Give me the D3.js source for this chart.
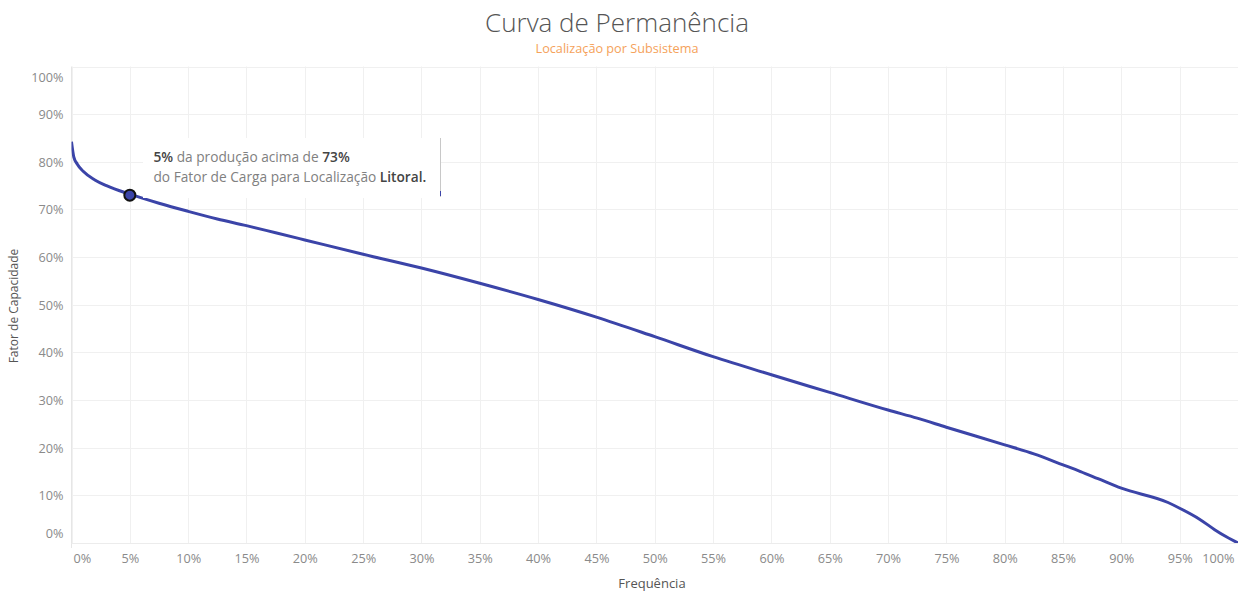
<!DOCTYPE html>
<html>
<head>
<meta charset="utf-8">
<script src="https://cdn.jsdelivr.net/npm/d3@7"></script>
<style>
  html, body { margin: 0; padding: 0; background: #fff; }
  svg { display: block; font-family: "Open Sans", "Lato", sans-serif; }
</style>
</head>
<body>
<svg id="chart" width="1238" height="591"></svg>
<script>
// ---- data ----
const frequency = [0, 0.002, 0.005, 0.01, 0.02, 0.03, 0.05, 0.075, 0.10, 0.125, 0.15, 0.175, 0.20, 0.25, 0.30, 0.35, 0.40, 0.45, 0.50, 0.55, 0.60, 0.65, 0.70, 0.725, 0.75, 0.80, 0.825, 0.85, 0.865, 0.88, 0.90, 0.94, 0.95, 0.967, 0.98, 0.99, 1.0];
const capacityFactor = [0.842, 0.81, 0.795, 0.78, 0.762, 0.750, 0.732, 0.713, 0.696, 0.680, 0.666, 0.651, 0.636, 0.606, 0.577, 0.545, 0.511, 0.474, 0.433, 0.391, 0.353, 0.316, 0.279, 0.262, 0.243, 0.206, 0.187, 0.164, 0.150, 0.135, 0.115, 0.085, 0.073, 0.050, 0.028, 0.013, 0.0];
const xTicks = d3.range(0, 21).map(i => i * 0.05);
const yTicks = d3.range(0, 11).map(i => i * 0.1);
const highlight = { freq: 0.05, value: 0.73 };
const titleText = "Curva de Permanência";
const subtitleText = "Localização por Subsistema";
const xTitle = "Frequência";
const yTitle = "Fator de Capacidade";
const tipLine1 = [["5%", true], [" da produção acima de ", false], ["73%", true]];
const tipLine2 = [["do Fator de Carga para Localização ", false], ["Litoral.", true]];

// ---- layout ----
const svg = d3.select("#chart");
const pLeft = 71.5, pRight = 1238, pTop = 66.5, pBottom = 543;
const x = d3.scaleLinear().domain([0, 1]).range([pLeft, pRight]);
const y = d3.scaleLinear().domain([0, 1]).range([pBottom, pTop]);
const fmt = d3.format(".0%");

// title
svg.append("text").attr("x", 617).attr("y", 32).attr("text-anchor", "middle")
  .attr("font-size", 26).attr("font-weight", 300).attr("fill", "#555").text(titleText);
svg.append("text").attr("x", 617).attr("y", 52.5).attr("text-anchor", "middle")
  .attr("font-size", 12.7).attr("fill", "#f5a25a").text(subtitleText);

// gridlines
const grid = svg.append("g");
grid.selectAll("line.v").data(xTicks).join("line")
  .attr("x1", d => Math.round(x(d)) + 0.5).attr("x2", d => Math.round(x(d)) + 0.5)
  .attr("y1", pTop).attr("y2", pBottom).attr("stroke", "#f0f0f0");
grid.selectAll("line.h").data(yTicks).join("line")
  .attr("x1", pLeft).attr("x2", pRight)
  .attr("y1", d => Math.round(y(d)) + 0.5).attr("y2", d => Math.round(y(d)) + 0.5)
  .attr("stroke", "#f0f0f0");
// axis lines
svg.append("line").attr("x1", pLeft).attr("x2", pLeft).attr("y1", pTop).attr("y2", pBottom + 5).attr("stroke", "#e6e6e6");
svg.append("line").attr("x1", pLeft).attr("x2", pRight).attr("y1", pBottom + 0.5).attr("y2", pBottom + 0.5).attr("stroke", "#ececec");

// x axis labels
const xAxis = d3.axisBottom(x).tickValues(xTicks).tickFormat(fmt).tickSize(0).tickPadding(0);
const gx = svg.append("g").attr("transform", `translate(0,${pBottom + 20})`).call(xAxis);
gx.select(".domain").remove();
gx.selectAll("text").attr("font-size", 12.7).attr("fill", "#8a8a8a").attr("font-family", "Open Sans, Lato, sans-serif").attr("dy", 0);
gx.selectAll(".tick").filter(d => d === 0).select("text").attr("text-anchor", "start").attr("dx", 1.5);
gx.selectAll(".tick").filter(d => d === 1).select("text").attr("text-anchor", "end").attr("dx", -4);

// y axis labels
const yAxis = d3.axisLeft(y).tickValues(yTicks).tickFormat(fmt).tickSize(0).tickPadding(8);
const gy = svg.append("g").attr("transform", `translate(${pLeft},0)`).call(yAxis);
gy.select(".domain").remove();
gy.selectAll("text").attr("font-size", 12.7).attr("fill", "#8a8a8a").attr("font-family", "Open Sans, Lato, sans-serif").attr("dy", "0.35em");
gy.selectAll(".tick").filter(d => d === 0).select("text").attr("dy", "-0.45em");
gy.selectAll(".tick").filter(d => Math.abs(d - 1) < 1e-9).select("text").attr("dy", "1.15em");

// axis titles
svg.append("text").attr("x", 652).attr("y", 588).attr("text-anchor", "middle")
  .attr("font-size", 13).attr("fill", "#555").text(xTitle);
svg.append("text").attr("transform", "translate(18,306) rotate(-90)").attr("text-anchor", "middle")
  .attr("font-size", 12).attr("fill", "#555").text(yTitle);

// clip
svg.append("clipPath").attr("id", "plotclip").append("rect")
  .attr("x", pLeft).attr("y", pTop - 5).attr("width", pRight - pLeft).attr("height", pBottom - pTop + 5);

// line
const pts = frequency.map((f, i) => [f, capacityFactor[i]]);
const line = d3.line().x(d => x(d[0])).y(d => y(d[1])).curve(d3.curveMonotoneX);
svg.append("path").attr("clip-path", "url(#plotclip)").datum(pts)
  .attr("d", line).attr("fill", "none").attr("stroke", "#3b44a8").attr("stroke-width", 3)
  .attr("stroke-linejoin", "round");

// tooltip box
svg.append("rect").attr("x", 143).attr("y", 138).attr("width", 297).attr("height", 60).attr("fill", "#fff");
svg.append("line").attr("x1", 440.5).attr("x2", 440.5).attr("y1", 138).attr("y2", 197).attr("stroke", "#c8c8c8");
svg.append("line").attr("x1", 440.5).attr("x2", 440.5).attr("y1", 191).attr("y2", 196).attr("stroke", "#3b44a8");
function tipText(parts, yy) {
  const t = svg.append("text").attr("x", 153.5).attr("y", yy).attr("font-size", 13.7).attr("font-family", "Open Sans, Lato, sans-serif");
  parts.forEach(([s, b]) => t.append("tspan").text(s).attr("fill", b ? "#444" : "#808080").attr("font-weight", b ? 600 : 400));
}
tipText(tipLine1, 162);
tipText(tipLine2, 182);

// highlighted point
svg.append("circle").attr("cx", x(highlight.freq)).attr("cy", y(highlight.value)).attr("r", 5.5)
  .attr("fill", "#3b44a8").attr("stroke", "#111").attr("stroke-width", 2);
</script>
</body>
</html>
